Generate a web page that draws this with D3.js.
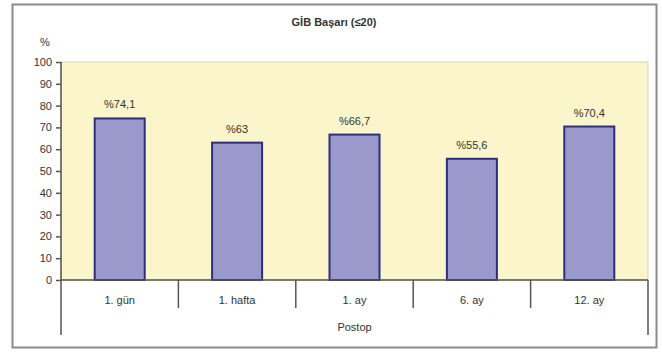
<!DOCTYPE html>
<html><head><meta charset="utf-8">
<script src="https://cdn.jsdelivr.net/npm/d3@7"></script>
<style>body{margin:0;background:#fff}svg{display:block}text{font-family:"Liberation Sans",Arial,sans-serif;fill:#333}</style>
</head><body>
<svg id="c" width="663" height="354"></svg>
<script>
const categories = ["1. gün", "1. hafta", "1. ay", "6. ay", "12. ay"];
const values = [74.1, 63, 66.7, 55.6, 70.4];
const labels = ["%74,1", "%63", "%66,7", "%55,6", "%70,4"];
const yTicks = [0,10,20,30,40,50,60,70,80,90,100];
const title = "GİB Başarı (≤20)";
const axisTitle = "Postop";

const svg = d3.select("#c");
const L = 61, R = 648, T = 62, B = 280;

svg.append("rect").attr("x",12.5).attr("y",4.5).attr("width",644).attr("height",343)
  .attr("fill","#fff").attr("stroke","#8a8a8a").attr("stroke-width",2);

svg.append("rect").attr("x",L).attr("y",T).attr("width",R-L).attr("height",B-T)
  .attr("fill","#FBF5CB").attr("stroke","#d8d3b0").attr("stroke-width",1);

const x = d3.scaleBand().domain(categories).range([L,R]).paddingInner(0).paddingOuter(0);
const y = d3.scaleLinear().domain([0,100]).range([B,T]);

const bw = 50;
svg.selectAll("rect.bar").data(values).enter().append("rect").attr("class","bar")
  .attr("x",(d,i)=>x(categories[i])+x.bandwidth()/2-bw/2)
  .attr("y",d=>y(d)).attr("width",bw).attr("height",d=>B-y(d))
  .attr("fill","#9999CC").attr("stroke","#2E2E80").attr("stroke-width",2);

svg.selectAll("text.lbl").data(values).enter().append("text").attr("class","lbl")
  .attr("x",(d,i)=>x(categories[i])+x.bandwidth()/2)
  .attr("y",d=>y(d)-10).attr("text-anchor","middle").attr("font-size",11)
  .text((d,i)=>labels[i]);

// y axis
const ya = svg.append("g").attr("transform",`translate(${L},0)`)
  .call(d3.axisLeft(y).tickValues(yTicks).tickSize(5).tickPadding(4));
ya.select(".domain").attr("stroke","#555").attr("stroke-width",1.5).attr("d",`M-0,${T}V${B}`);
ya.selectAll(".tick line").attr("stroke","#555").attr("stroke-width",1.5);
ya.selectAll(".tick text").attr("font-size",11).attr("fill","#333").attr("font-family","Liberation Sans, Arial, sans-serif");

// x axis baseline
svg.append("line").attr("x1",L).attr("x2",R).attr("y1",B).attr("y2",B).attr("stroke","#555").attr("stroke-width",1.5);
// category separators
const bounds = categories.map(c=>x(c)).slice(1);
svg.selectAll("line.sep").data(bounds).enter().append("line").attr("class","sep")
  .attr("x1",d=>d).attr("x2",d=>d).attr("y1",B).attr("y2",308).attr("stroke","#555").attr("stroke-width",1.5);
// outer verticals of category axis
svg.append("line").attr("x1",L).attr("x2",L).attr("y1",B).attr("y2",335).attr("stroke","#555").attr("stroke-width",1.5);
svg.append("line").attr("x1",R).attr("x2",R).attr("y1",B).attr("y2",335).attr("stroke","#555").attr("stroke-width",1.5);

svg.selectAll("text.cat").data(categories).enter().append("text").attr("class","cat")
  .attr("x",d=>x(d)+x.bandwidth()/2).attr("y",304).attr("text-anchor","middle").attr("font-size",11).text(d=>d);

svg.append("text").attr("x",(L+R)/2).attr("y",331).attr("text-anchor","middle").attr("font-size",11).text(axisTitle);
svg.append("text").attr("x",334).attr("y",26).attr("text-anchor","middle").attr("font-size",11).attr("font-weight","bold").text(title);
svg.append("text").attr("x",45).attr("y",46).attr("text-anchor","middle").attr("font-size",11).text("%");
</script>
</body></html>
